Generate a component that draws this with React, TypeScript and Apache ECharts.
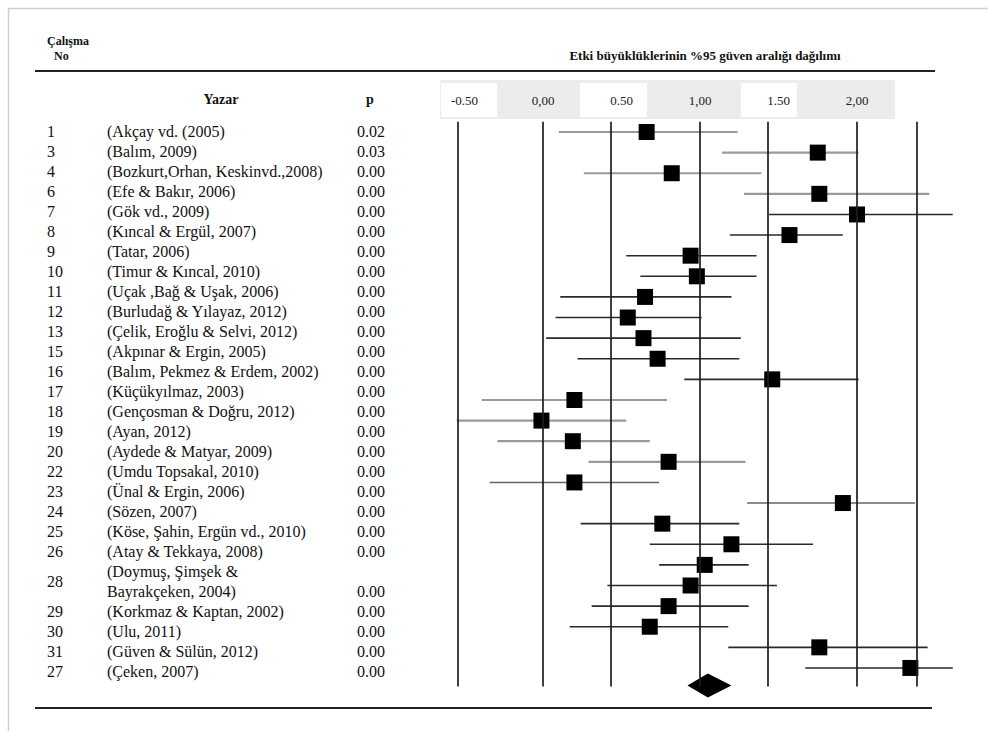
import React, { useEffect, useRef } from "react";
import * as echarts from "echarts";

// ---- data ----
const studyNumbers = ["1", "3", "4", "6", "7", "8", "9", "10", "11", "12", "13", "15", "16", "17", "18", "19", "20", "22", "23", "24", "25", "26", "28", "29", "30", "31", "27"];
const authors = [
  "(Akçay vd. (2005)",
  "(Balım, 2009)",
  "(Bozkurt,Orhan, Keskinvd.,2008)",
  "(Efe & Bakır, 2006)",
  "(Gök vd., 2009)",
  "(Kıncal & Ergül, 2007)",
  "(Tatar, 2006)",
  "(Timur & Kıncal, 2010)",
  "(Uçak ,Bağ & Uşak, 2006)",
  "(Burludağ & Yılayaz, 2012)",
  "(Çelik, Eroğlu & Selvi, 2012)",
  "(Akpınar & Ergin, 2005)",
  "(Balım, Pekmez & Erdem, 2002)",
  "(Küçükyılmaz, 2003)",
  "(Gençosman & Doğru, 2012)",
  "(Ayan, 2012)",
  "(Aydede & Matyar, 2009)",
  "(Umdu Topsakal, 2010)",
  "(Ünal & Ergin, 2006)",
  "(Sözen, 2007)",
  "(Köse, Şahin, Ergün vd., 2010)",
  "(Atay & Tekkaya, 2008)",
  "(Doymuş, Şimşek &\nBayrakçeken, 2004)",
  "(Korkmaz & Kaptan, 2002)",
  "(Ulu, 2011)",
  "(Güven & Sülün, 2012)",
  "(Çeken, 2007)",
];
const pValues = ["0.02", "0.03", "0.00", "0.00", "0.00", "0.00", "0.00", "0.00", "0.00", "0.00", "0.00", "0.00", "0.00", "0.00", "0.00", "0.00", "0.00", "0.00", "0.00", "0.00", "0.00", "0.00", "0.00", "0.00", "0.00", "0.00", "0.00"];
const effectSizes = [0.66, 1.75, 0.82, 1.76, 2.0, 1.57, 0.94, 0.98, 0.65, 0.54, 0.64, 0.73, 1.46, 0.2, -0.01, 0.19, 0.8, 0.2, 1.91, 0.76, 1.2, 1.03, 0.94, 0.8, 0.68, 1.76, 2.34];
const lowerCI = [0.1, 1.14, 0.26, 1.28, 1.44, 1.19, 0.53, 0.62, 0.11, 0.08, 0.02, 0.22, 0.9, -0.39, -0.55, -0.29, 0.29, -0.34, 1.3, 0.24, 0.68, 0.74, 0.41, 0.31, 0.17, 1.18, 1.67];
const upperCI = [1.24, 2.01, 1.39, 2.46, 2.61, 1.91, 1.36, 1.36, 1.2, 1.01, 1.26, 1.25, 2.01, 0.79, 0.53, 0.68, 1.29, 0.74, 2.37, 1.25, 1.72, 1.31, 1.49, 1.31, 1.18, 2.45, 2.61];
const ciTone = ["light", "light", "light", "light", "dark", "dark", "dark", "dark", "dark", "dark", "dark", "dark", "dark", "light", "light", "light", "light", "mid", "mid", "dark", "dark", "dark", "dark", "dark", "dark", "dark", "dark"];
const summaryEffect = 1.05;
const summaryLower = 0.92;
const summaryUpper = 1.2;
const referenceLines = [-0.54, 0, 0.43, 1, 1.43, 2, 2.38];
const tickValues = [-0.5, 0, 0.5, 1, 1.5, 2];
const tickLabels = ["-0.50", "0,00", "0.50", "1,00", "1.50", "2,00"];

const titleText = "Etki büyüklüklerinin %95 güven aralığı dağılımı";

export default function App() {
  const ref = useRef<HTMLDivElement>(null);

  useEffect(() => {
    if (!ref.current) return;
    const chart = echarts.init(ref.current, null, { renderer: "svg" });
    const serif = '"Liberation Serif", "Times New Roman", serif';
    const textColor = "#111111";
    const toneColor: Record<string, string> = { light: "#9a9a9a", mid: "#666666", dark: "#2a2a2a" };

    // table (left part) text layout
    const lineTop = 131;
    const lineStep = 20;
    const tableTexts: any[] = [];
    let k = 0;
    authors.forEach((a, i) => {
      const lines = a.split("\n");
      const first = lineTop + k * lineStep;
      const last = lineTop + (k + lines.length - 1) * lineStep;
      const base = { fontSize: 16, fontFamily: serif, fill: textColor, align: "left", verticalAlign: "middle" };
      tableTexts.push({ type: "text", x: 47, y: (first + last) / 2, z: 50, style: { ...base, text: studyNumbers[i] } });
      lines.forEach((ln, j) =>
        tableTexts.push({ type: "text", x: 107, y: first + j * lineStep, z: 50, style: { ...base, text: ln } })
      );
      tableTexts.push({ type: "text", x: 357, y: last, z: 50, style: { ...base, text: pValues[i] } });
      k += lines.length;
    });

    const bold = { fontFamily: serif, fontWeight: "bold", fill: textColor };

    const graphic: any[] = [
      // page frame
      { type: "line", z: 0, shape: { x1: 8, y1: 8.5, x2: 988, y2: 8.5 }, style: { stroke: "#cfcfcf", lineWidth: 1.5 } },
      { type: "line", z: 0, shape: { x1: 8.5, y1: 8, x2: 8.5, y2: 731 }, style: { stroke: "#cfcfcf", lineWidth: 1.5 } },
      // header
      { type: "text", x: 47, y: 41, z: 50, style: { ...bold, text: "Çalışma", fontSize: 12, align: "left", verticalAlign: "middle" } },
      { type: "text", x: 54, y: 56, z: 50, style: { ...bold, text: "No", fontSize: 12, align: "left", verticalAlign: "middle" } },
      { type: "text", x: 705, y: 55, z: 50, style: { ...bold, text: titleText, fontSize: 13, align: "center", verticalAlign: "middle" } },
      { type: "line", z: 0, shape: { x1: 35, y1: 71, x2: 935, y2: 71 }, style: { stroke: "#222", lineWidth: 2.2 } },
      // tick label band
      { type: "rect", z: -5, shape: { x: 440, y: 80, width: 455, height: 39 }, style: { fill: "#ececec" } },
      { type: "rect", z: -4, shape: { x: 441, y: 83, width: 56, height: 34 }, style: { fill: "#ffffff" } },
      { type: "rect", z: -4, shape: { x: 580, y: 83, width: 67, height: 34 }, style: { fill: "#ffffff" } },
      { type: "rect", z: -4, shape: { x: 741, y: 83, width: 56, height: 34 }, style: { fill: "#ffffff" } },
      { type: "text", x: 221, y: 99, z: 50, style: { ...bold, text: "Yazar", fontSize: 14, align: "center", verticalAlign: "middle" } },
      { type: "text", x: 370, y: 99, z: 50, style: { ...bold, text: "p", fontSize: 14, align: "center", verticalAlign: "middle" } },
      // bottom rule
      { type: "line", z: 0, shape: { x1: 35, y1: 708, x2: 932, y2: 708 }, style: { stroke: "#222", lineWidth: 2.2 } },
      ...tableTexts,
    ];

    const summaryRow = 26.85;

    chart.setOption({
      animation: false,
      backgroundColor: "#ffffff",
      grid: { left: 425.25, right: 13.25, top: 121.7, bottom: 44.5, containLabel: false },
      xAxis: {
        type: "value",
        position: "top",
        min: -0.75,
        max: 2.75,
        interval: 0.25,
        axisLine: { show: false },
        axisTick: { show: false },
        splitLine: { show: false },
        axisLabel: {
          margin: 15,
          fontSize: 13,
          fontFamily: serif,
          color: "#222",
          formatter: (v: number) => {
            const i = tickValues.findIndex((t) => Math.abs(t - v) < 1e-6);
            return i >= 0 ? tickLabels[i] : "";
          },
        },
      },
      yAxis: {
        type: "value",
        inverse: true,
        min: -0.5,
        max: 26.9,
        show: false,
      },
      graphic: { elements: graphic },
      series: [
        {
          type: "line",
          data: [],
          z: 1,
          markLine: {
            silent: true,
            animation: false,
            symbol: ["none", "none"],
            label: { show: false },
            lineStyle: { color: "#1e1e1e", width: 1.7, type: "solid" },
            data: referenceLines.map((v) => ({ xAxis: v })),
          },
        },
        {
          type: "custom",
          z: 2,
          encode: { x: [0, 1], y: 2 },
          data: lowerCI.map((lo, i) => [lo, upperCI[i], i, ciTone[i]]),
          renderItem: (params: any, api: any) => {
            const lo = api.value(0);
            const hi = api.value(1);
            const y = api.value(2);
            const tone = ciTone[params.dataIndex];
            const p1 = api.coord([lo, y]);
            const p2 = api.coord([hi, y]);
            return {
              type: "line",
              shape: { x1: p1[0], y1: p1[1], x2: p2[0], y2: p2[1] },
              style: { stroke: toneColor[tone], lineWidth: tone === "light" ? 2.2 : 1.6 },
            };
          },
        },
        {
          type: "scatter",
          z: 3,
          symbol: "rect",
          symbolSize: 16,
          itemStyle: { color: "#000000", opacity: 1 },
          data: effectSizes.map((v, i) => [v, i]),
        },
        {
          type: "custom",
          z: 4,
          encode: { x: [0, 1, 2], y: 3 },
          data: [[summaryLower, summaryEffect, summaryUpper, summaryRow]],
          renderItem: (_params: any, api: any) => {
            const y = api.value(3);
            const l = api.coord([api.value(0), y]);
            const c = api.coord([api.value(1), y]);
            const r = api.coord([api.value(2), y]);
            const h = 12;
            return {
              type: "polygon",
              shape: {
                points: [
                  [l[0], l[1]],
                  [c[0], c[1] - h],
                  [r[0], r[1]],
                  [c[0], c[1] + h],
                ],
              },
              style: { fill: "#000000" },
            };
          },
        },
      ],
    });

    return () => chart.dispose();
  }, []);

  return (
    <div
      ref={ref}
      style={{ position: "fixed", left: 0, top: 0, width: 988, height: 731, background: "#ffffff" }}
    />
  );
}
